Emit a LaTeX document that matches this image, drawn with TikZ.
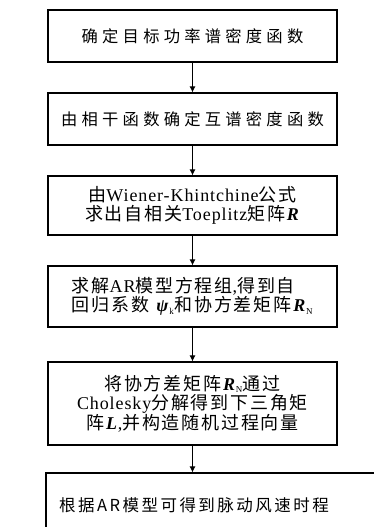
\documentclass[tikz,border=0pt]{standalone}
\usepackage{fontspec}
\setmainfont[LetterSpace=5]{Liberation Serif}
\newfontfamily\cjk[LetterSpace=10]{Noto Sans CJK SC}
\newfontfamily\cjkw[LetterSpace=26]{Noto Sans CJK SC}
\newfontfamily\cjkb[LetterSpace=15]{Noto Sans CJK SC}
\newcommand\zh[1]{{\cjk #1}}
\newcommand\bi[1]{\textbf{\textit{#1}}}
\newcommand\sub[1]{\textsubscript{\fontsize{9}{9}\selectfont #1}}
\usetikzlibrary{arrows.meta}
\begin{document}
\begin{tikzpicture}[x=1pt,y=1pt,
  box/.style={draw,line width=1.1pt,minimum width=289pt,inner sep=0pt},
  conn/.style={line width=1pt,-{Latex[length=6pt,width=6pt]}},
  body/.style={font=\fontsize{18}{19.5}\selectfont}]
\useasboundingbox (0,0) rectangle (374,-527);
\clip (0,0) rectangle (374,-527);
\node[box,minimum height=52pt,font=\fontsize{16.3}{19}\selectfont\cjkw] (b1) at (192.5,-36) {确定目标功率谱密度函数};
\node[box,minimum height=52pt,font=\fontsize{16.3}{19}\selectfont\cjkw] (b2) at (192.5,-119) {由相干函数确定互谱密度函数};
\node[box,minimum height=59pt,align=center,body] (b3) at (192.5,-205.5)
  {\zh{由}Wiener-Khintchine\zh{公式}\\\zh{求出自相关}Toeplitz\zh{矩阵}\bi{R}};
\node[box,minimum height=61pt,align=left,body] (b4) at (192.5,-296.5)
  {\zh{求解}AR\zh{模型方程组},\zh{得到自}\\\zh{回归系数} \bi{ψ}\sub{k}\zh{和协方差矩阵}\bi{R}\sub{N}};
\node[box,minimum height=83pt,align=center,body] (b5) at (192.5,-403.5)
  {\zh{将协方差矩阵}\bi{R}\sub{N}\zh{通过}\\Cholesky\zh{分解得到下三角矩}\\\zh{阵}\bi{L},\zh{并构造随机过程向量}};
\node[box,minimum width=380pt,minimum height=100pt] (b6) at (236,-523) {};
\node[font=\fontsize{16.5}{19}\selectfont\cjkb] (t6) at (194,-505) {根据AR模型可得到脉动风速时程};
\draw[conn] (b1.south) -- (b2.north);
\draw[conn] (b2.south) -- (b3.north);
\draw[conn] (b3.south) -- (b4.north);
\draw[conn] (b4.south) -- (b5.north);
\draw[conn] (b5.south) -- (b5.south |- b6.north);
\end{tikzpicture}
\end{document}
